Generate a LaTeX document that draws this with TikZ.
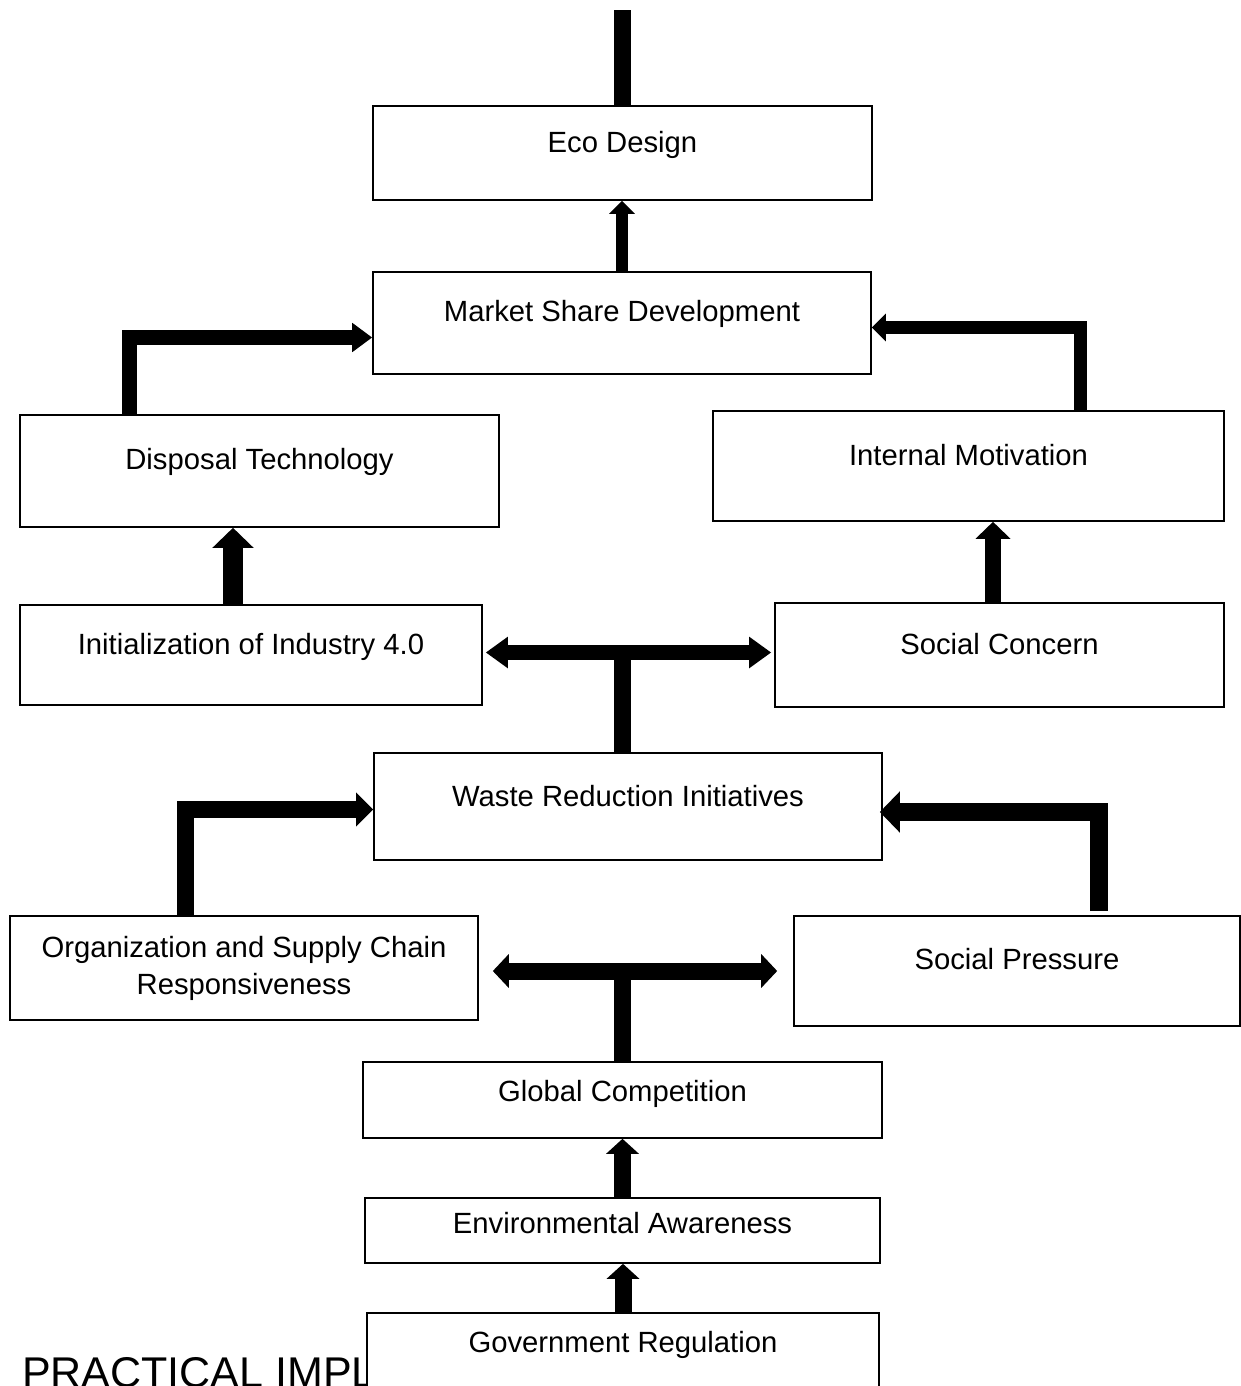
\documentclass[tikz,border=0pt]{standalone}
\usepackage{fontspec}
\setmainfont{Liberation Sans}
\usetikzlibrary{arrows.meta}
\begin{document}
\begin{tikzpicture}[x=1pt,y=-1pt,
  box/.style={draw, line width=1.6pt, fill=white, inner sep=0pt, align=center,
    font=\fontsize{29.25}{37}\selectfont},
  one/.style={text height=21pt, text depth=#1},
  conn/.style={line width=#1, line cap=butt, line join=miter},
]
\useasboundingbox[fill=white] (0,0) rectangle (1241,1386);

\node[anchor=base west, inner sep=0pt, font=\fontsize{43}{50}\selectfont] (pi) at (22,1387) {PRACTICAL IMPL};

\node[box, one=22pt, minimum width=499pt, minimum height=94pt] (eco) at (622.5,153) {Eco Design};
\node[box, one=24pt, minimum width=498pt, minimum height=102pt] (market) at (622,323) {Market Share Development};
\node[box, one=24pt, minimum width=479pt, minimum height=112pt] (disp) at (259.5,471) {Disposal Technology};
\node[box, one=22pt, minimum width=511pt, minimum height=110pt] (intm) at (968.5,466) {Internal Motivation};
\node[box, one=22pt, minimum width=462pt, minimum height=100pt] (init) at (251,655) {Initialization of Industry 4.0};
\node[box, one=22pt, minimum width=449pt, minimum height=104pt] (soc) at (999.5,655) {Social Concern};
\node[box, one=21pt, minimum width=508pt, minimum height=107pt] (waste) at (628,806.5) {Waste Reduction Initiatives};
\node[box, minimum width=468pt, minimum height=104pt] (org) at (244,968) {Organization and Supply Chain\\Responsiveness};
\node[box, one=24pt, minimum width=446pt, minimum height=110pt] (sp) at (1017,971) {Social Pressure};
\node[box, one=18pt, minimum width=519pt, minimum height=76pt] (glob) at (622.5,1100) {Global Competition};
\node[box, one=15pt, minimum width=515pt, minimum height=65pt] (env) at (622.5,1230.5) {Environmental Awareness};
\node[box, one=49pt, minimum width=512pt, minimum height=107pt] (gov) at (623,1366.5) {Government Regulation};

% top line
\coordinate (top) at (622,10);
\draw[conn=17pt] (eco.north) -- (eco.north |- top);

% market -> eco
\draw[conn=12pt, -{Triangle[length=13pt,width=25pt]}] (market.north) -- (market.north |- eco.south);

% disposal -> market
\coordinate (d1) at ([xshift=-130.5pt]disp.north);
\coordinate (m1) at ([yshift=-14.5pt]market.west);
\draw[conn=15pt, -{Triangle[length=20pt,width=28pt]}] (d1) |- (m1);

% internal -> market
\coordinate (i1) at ([xshift=111.5pt]intm.north);
\coordinate (m2) at ([yshift=-4.5pt]market.east);
\draw[conn=13pt, -{Triangle[length=14pt,width=27pt]}] (i1) |- (m2);

% init -> disposal
\coordinate (a1) at ([xshift=-18pt]init.north);
\draw[conn=20pt, -{Triangle[length=20pt,width=40pt]}] (a1) -- (a1 |- disp.south);

% social concern -> internal
\coordinate (a2) at ([xshift=-6.5pt]soc.north);
\draw[conn=16pt, -{Triangle[length=17pt,width=34pt]}] (a2) -- (a2 |- intm.south);

% waste T
\coordinate (h1) at ([yshift=2.5pt]init.east);
\coordinate (h2) at ([yshift=2.5pt]soc.west);
\draw[conn=15pt, {Triangle[length=22pt,width=30pt]}-{Triangle[length=22pt,width=30pt]},
  shorten <=3pt, shorten >=3pt] (h1) -- (h2);
\coordinate (w1) at ([xshift=-5.5pt]waste.north);
\draw[conn=17pt] (w1) -- (w1 |- h1);

% org -> waste
\coordinate (o1) at ([xshift=-59pt]org.north);
\coordinate (w2) at ([yshift=-3pt]waste.west);
\draw[conn=17pt, -{Triangle[length=17pt,width=33pt]}] (o1) |- (w2);

% social pressure -> waste
\coordinate (s1) at ([xshift=81.5pt,yshift=4pt]sp.north);
\coordinate (w3) at ([yshift=-5.5pt]waste.east);
\draw[conn=18pt, -{Triangle[length=20pt,width=40pt]}, shorten >=-3pt] (s1) |- (w3);

% global T
\coordinate (g1) at (org.east |- sp.west);
\draw[conn=17pt, {Triangle[length=16pt,width=33pt]}-{Triangle[length=16pt,width=33pt]},
  shorten <=14pt, shorten >=16pt] (g1) -- (sp.west);
\draw[conn=17pt] (glob.north) -- (glob.north |- g1);

% env -> global, gov -> env
\draw[conn=17pt, -{Triangle[length=15pt,width=32pt]}] (env.north) -- (env.north |- glob.south);
\draw[conn=17pt, -{Triangle[length=15pt,width=32pt]}] (gov.north) -- (gov.north |- env.south);
\end{tikzpicture}
\end{document}
